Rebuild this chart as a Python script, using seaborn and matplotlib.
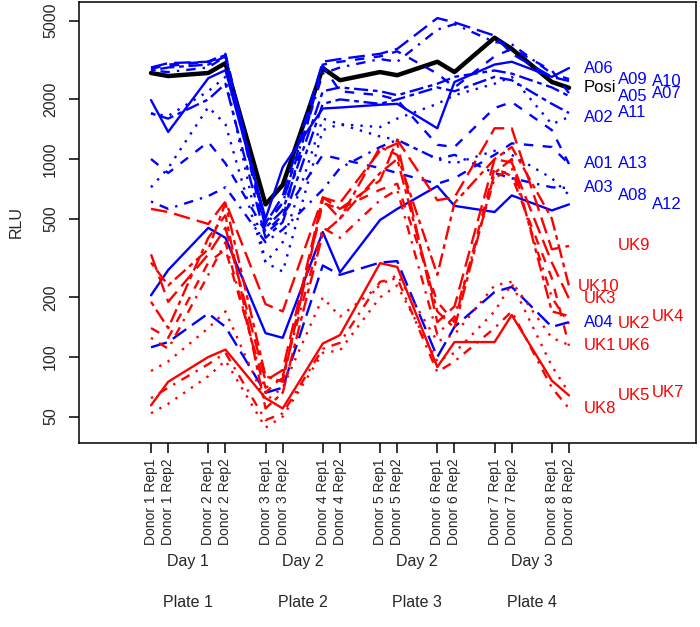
import matplotlib
matplotlib.use("Agg")
import matplotlib.pyplot as plt
import matplotlib.transforms as mtransforms
from matplotlib.ticker import NullLocator
import pandas as pd
import seaborn as sns

# ---------------------------------------------------------------------
# Data
# ---------------------------------------------------------------------
donors = [1, 2, 3, 4, 5, 6, 7, 8]
reps = ["Rep1", "Rep2"]
days = ["Day 1", "Day 2", "Day 2", "Day 3"]
plates = ["Plate 1", "Plate 2", "Plate 3", "Plate 4"]
y_ticks = [50, 100, 200, 500, 1000, 2000, 5000]

series_names = ["Posi",
                "A01", "A02", "A03", "A04", "A05", "A06", "A07",
                "A08", "A09", "A10", "A11", "A12", "A13",
                "UK1", "UK2", "UK3", "UK4", "UK5", "UK6", "UK7",
                "UK8", "UK9", "UK10"]

posi = [2720, 2625, 2720, 3050, 590, 740, 2880, 2500, 2750, 2650, 3100, 2750, 4100, 3600, 2450, 2290]

a01 = [1000, 850, 1220, 950, 430, 520, 1050, 1000, 900, 850, 750, 800, 1050, 1200, 1150, 944]
a02 = [720, 900, 1830, 1500, 300, 270, 1400, 1500, 1450, 1600, 1900, 2100, 2400, 2600, 1500, 1630]
a03 = [610, 560, 650, 720, 380, 440, 700, 900, 1150, 1250, 1000, 1050, 850, 800, 720, 714]
a04 = [112, 119, 166, 142, 66, 70, 290, 260, 300, 305, 100, 142, 213, 226, 142, 150]
a05 = [2800, 2900, 3000, 3300, 450, 550, 2200, 2300, 2200, 2100, 2400, 2600, 2800, 2700, 2300, 2081]
a06 = [1985, 1370, 2560, 2810, 500, 910, 1800, 1820, 1880, 1900, 1430, 2450, 3000, 3100, 2600, 2880]
a07 = [2850, 3000, 3100, 3300, 420, 500, 3000, 3100, 3300, 3500, 2700, 2300, 3300, 3600, 2800, 2154]
a08 = [1700, 1650, 2200, 2600, 300, 380, 1600, 1500, 1300, 1250, 1000, 950, 1100, 1050, 800, 658]
a09 = [2800, 2750, 2900, 3300, 460, 600, 2700, 2900, 3200, 3100, 4500, 4800, 3900, 3800, 2700, 2535]
a10 = [2900, 3050, 3100, 3350, 470, 650, 3100, 3200, 3400, 3600, 5150, 4900, 4200, 3400, 2600, 2477]
a11 = [1700, 1600, 2000, 2400, 400, 480, 1900, 2000, 1900, 2000, 2300, 2200, 2600, 2500, 1900, 1708]
a12 = [205, 275, 449, 400, 132, 125, 428, 268, 492, 560, 730, 580, 540, 655, 550, 590]
a13 = [2900, 2950, 3100, 3400, 480, 600, 2950, 2200, 2100, 1990, 1180, 1150, 1810, 1940, 1400, 944]

uk1 = [85, 95, 140, 170, 60, 70, 200, 160, 230, 260, 120, 130, 230, 240, 125, 115]
uk2 = [125, 110, 260, 380, 66, 80, 450, 400, 620, 700, 130, 160, 800, 900, 200, 147]
uk3 = [330, 190, 330, 450, 76, 86, 640, 600, 1100, 1200, 150, 180, 1000, 960, 300, 197]
uk4 = [190, 140, 400, 520, 55, 66, 420, 500, 850, 1000, 170, 140, 850, 1000, 170, 161]
uk5 = [57, 75, 100, 109, 62, 55, 117, 129, 298, 285, 89, 119, 119, 163, 76, 64]
uk6 = [140, 125, 300, 350, 70, 78, 600, 560, 700, 750, 190, 150, 900, 820, 250, 114]
uk7 = [52, 58, 80, 96, 44, 50, 105, 108, 200, 230, 95, 105, 170, 235, 90, 66]
uk8 = [62, 70, 92, 105, 48, 52, 110, 118, 240, 250, 84, 95, 140, 170, 70, 55]
uk9 = [560, 540, 470, 610, 185, 170, 640, 560, 780, 1250, 620, 640, 1430, 1430, 350, 364]
uk10 = [300, 230, 350, 600, 80, 75, 620, 500, 1150, 1050, 260, 600, 1000, 1150, 500, 228]

all_values = [posi, a01, a02, a03, a04, a05, a06, a07, a08, a09, a10, a11, a12, a13,
              uk1, uk2, uk3, uk4, uk5, uk6, uk7, uk8, uk9, uk10]

# label column for the end-of-line names (0 = first column)
label_col = {"A06": 0, "A09": 1, "A10": 2, "Posi": 0, "A05": 1, "A07": 2,
             "A02": 0, "A11": 1, "A01": 0, "A13": 1, "A03": 0, "A08": 1,
             "A12": 2, "UK9": 1, "UK10": -1, "UK3": 0, "A04": 0, "UK2": 1,
             "UK4": 2, "UK1": 0, "UK6": 1, "UK8": 0, "UK5": 1, "UK7": 2}

# ---------------------------------------------------------------------
# Styles (R lty cycle: solid, dashed, dotted, dotdash, longdash, twodash)
# ---------------------------------------------------------------------
lty_cycle = ["", (4, 4), (1, 3), (1, 3, 4, 3), (7, 3), (2, 2, 6, 2)]
color_of = {}
for name in series_names:
    if name == "Posi":
        color_of[name] = "black"
    elif name.startswith("A"):
        color_of[name] = "#0000FF"
    else:
        color_of[name] = "#FF0000"
dash_of = {n: lty_cycle[i % 6] for i, n in enumerate(series_names)}
size_of = {n: (3.2 if n == "Posi" else 1.7) for n in series_names}

x_pos = [d + 0.3 * r for d in donors for r in range(len(reps))]
x_labels = [f"Donor {d} {rep}" for d in donors for rep in reps]

rows = []
for name, vals in zip(series_names, all_values):
    for x, v in zip(x_pos, vals):
        rows.append({"series": name, "x": x, "rlu": v})
df = pd.DataFrame(rows)

# ---------------------------------------------------------------------
# Plot
# ---------------------------------------------------------------------
sns.set_style("ticks")
plt.rcParams["font.family"] = ["Liberation Sans", "DejaVu Sans"]
plt.rcParams["lines.solid_capstyle"] = "round"

fig = plt.figure(figsize=(7.0, 6.27), dpi=100)
ax = fig.add_axes([0.1129, 0.2935, 0.8814, 0.7033])

sns.lineplot(data=df, x="x", y="rlu", hue="series", style="series", size="series",
             palette=color_of, dashes=dash_of, sizes=size_of,
             estimator=None, sort=False, legend=False, ax=ax)

ax.set_yscale("log")
ax.set_ylim(36.8, 6210)
ax.set_xlim(-0.257, 10.518)
ax.set_yticks(y_ticks)
ax.set_yticklabels([str(t) for t in y_ticks], rotation=90, va="center", fontsize=11.5)
ax.yaxis.set_minor_locator(NullLocator())
ax.set_xticks(x_pos)
ax.set_xticklabels(x_labels, rotation=90, fontsize=10)
ax.tick_params(axis="both", direction="out", length=7, width=1.1, color="black")
ax.tick_params(axis="y", pad=8)
ax.tick_params(axis="x", pad=4)
ax.set_xlabel("")
ax.set_ylabel("RLU", fontsize=11.5, labelpad=14)
for sp in ax.spines.values():
    sp.set_visible(True)
    sp.set_color("black")
    sp.set_linewidth(1.1)

# end-of-line names
col_x = {-1: 8.457, 0: 8.56, 1: 9.155, 2: 9.749}
for name, vals in zip(series_names, all_values):
    ax.text(col_x[label_col[name]], vals[-1], name, color=color_of[name],
            fontsize=12, ha="left", va="center")

# day / plate group labels under the axis
trans = mtransforms.blended_transform_factory(ax.transData, fig.transFigure)
for g in range(4):
    cx = (x_pos[4 * g] + x_pos[4 * g + 3]) / 2
    ax.text(cx, 0.1037, days[g], transform=trans, ha="center", va="center", fontsize=11.5)
    ax.text(cx, 0.0383, plates[g], transform=trans, ha="center", va="center", fontsize=11.5)

fig.savefig("out.png", dpi=100)
plt.close(fig)
